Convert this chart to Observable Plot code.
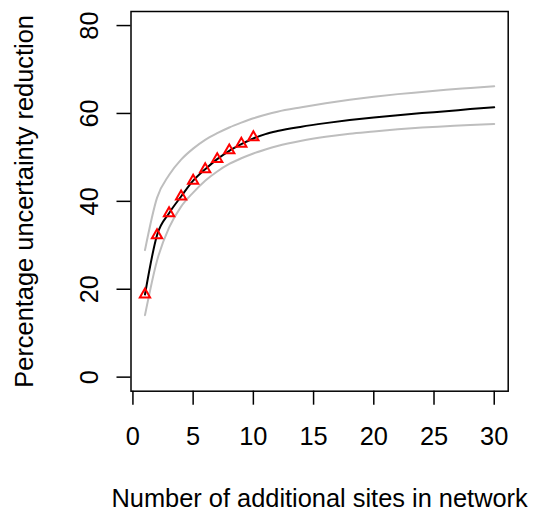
<!DOCTYPE html>
<html>
<head>
<meta charset="utf-8">
<script src="https://cdn.jsdelivr.net/npm/d3@7"></script>
<script src="https://cdn.jsdelivr.net/npm/@observablehq/plot@0.6"></script>
<style>
  html, body { margin: 0; padding: 0; background: white; }
</style>
</head>
<body>
<div id="chart"></div>
<script>
const xLabel = "Number of additional sites in network";
const yLabel = "Percentage uncertainty reduction";
const xTicks = [0, 5, 10, 15, 20, 25, 30];
const yTicks = [0, 20, 40, 60, 80];

const obsX = [1, 2, 3, 4, 5, 6, 7, 8, 9, 10];
const obsY = [18.8, 32.3, 37.3, 41.1, 44.7, 47.3, 49.6, 51.6, 53.1, 54.6];

const curveX = [1, 2, 3, 4, 5, 6, 7, 8, 9, 10, 11, 12, 14, 16, 18, 20, 22, 24, 26, 28, 30];
const meanY  = [18.8, 32.3, 37.3, 41.1, 44.7, 47.3, 49.6, 51.5, 53.0, 54.3, 55.3, 56.0, 57.0, 57.8, 58.5, 59.1, 59.6, 60.1, 60.5, 61.0, 61.4];
const upperY = [28.9, 40.8, 46.0, 49.5, 52.0, 54.0, 55.5, 56.8, 57.9, 58.9, 59.7, 60.4, 61.4, 62.3, 63.1, 63.8, 64.4, 64.9, 65.4, 65.8, 66.2];
const lowerY = [14.1, 26.5, 34.0, 38.8, 42.0, 44.7, 46.8, 48.5, 49.8, 50.9, 51.8, 52.6, 53.8, 54.7, 55.4, 55.9, 56.4, 56.8, 57.1, 57.4, 57.6];

const obs = obsX.map((x, i) => ({x, y: obsY[i]}));
const mean = curveX.map((x, i) => ({x, y: meanY[i]}));
const upper = curveX.map((x, i) => ({x, y: upperY[i]}));
const lower = curveX.map((x, i) => ({x, y: lowerY[i]}));

const chart = Plot.plot({
  width: 533,
  height: 511,
  marginLeft: 130.5,
  marginRight: 25.3,
  marginTop: 11,
  marginBottom: 120.3,
  style: {fontFamily: "'Liberation Sans', Arial, sans-serif", fontSize: "25.4px", color: "black", background: "white"},
  x: {domain: [-0.16, 31.16]},
  y: {domain: [-3.2, 83.2]},
  marks: [
    Plot.line(upper, {x: "x", y: "y", stroke: "#bebebe", strokeWidth: 2, curve: "monotone-x"}),
    Plot.line(lower, {x: "x", y: "y", stroke: "#bebebe", strokeWidth: 2, curve: "monotone-x"}),
    Plot.line(mean, {x: "x", y: "y", stroke: "black", strokeWidth: 2, curve: "monotone-x"}),
    Plot.dot(obs, {x: "x", y: "y", symbol: "triangle", r: 3.8, stroke: "#ff0000", fill: "none", strokeWidth: 2}),
    Plot.frame({stroke: "black", strokeWidth: 1.5}),
    Plot.axisX({ticks: xTicks, tickSize: 14, tickPadding: 22, strokeWidth: 1.5, label: xLabel, labelAnchor: "center", labelArrow: "none", labelOffset: 116}),
    Plot.axisY({ticks: yTicks, tickSize: 14, tickRotate: -90, tickPadding: 19, strokeWidth: 1.5, label: yLabel, labelAnchor: "center", labelArrow: "none", labelOffset: 116})
  ]
});
document.getElementById("chart").appendChild(chart);
</script>
</body>
</html>
